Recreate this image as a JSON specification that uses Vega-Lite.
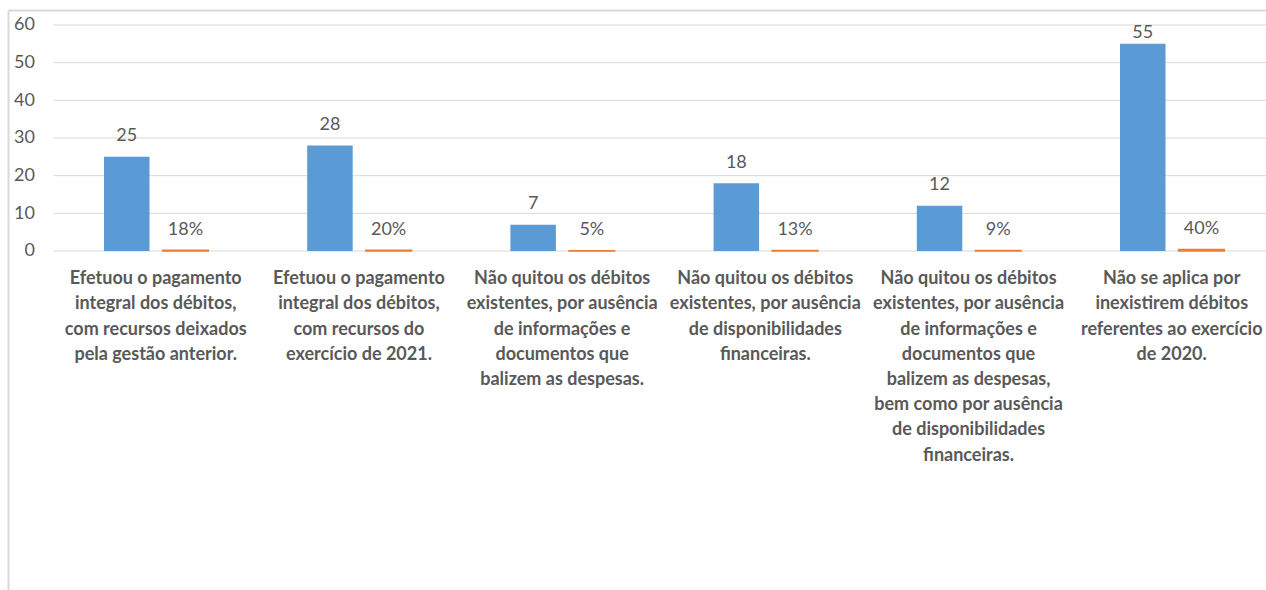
{
  "$schema": "https://vega.github.io/schema/vega-lite/v6.json",
  "width": 1258,
  "height": 580,
  "autosize": "none",
  "padding": {"left": 8, "top": 10, "right": 0, "bottom": 0},
  "background": "white",
  "config": {"view": {"stroke": null}, "text": {"font": "Lato"}},
  "datasets": {
    "barras": [
      {"cat": "Efetuou o pagamento|integral dos débitos,|com recursos deixados|pela gestão anterior.", "serie": "Quantidade", "valor": 25, "rotulo": "25"},
      {"cat": "Efetuou o pagamento|integral dos débitos,|com recursos deixados|pela gestão anterior.", "serie": "Percentual", "valor": 0.18, "rotulo": "18%"},
      {"cat": "Efetuou o pagamento|integral dos débitos,|com recursos do|exercício de 2021.", "serie": "Quantidade", "valor": 28, "rotulo": "28"},
      {"cat": "Efetuou o pagamento|integral dos débitos,|com recursos do|exercício de 2021.", "serie": "Percentual", "valor": 0.20, "rotulo": "20%"},
      {"cat": "Não quitou os débitos|existentes, por ausência|de informações e|documentos que|balizem as despesas.", "serie": "Quantidade", "valor": 7, "rotulo": "7"},
      {"cat": "Não quitou os débitos|existentes, por ausência|de informações e|documentos que|balizem as despesas.", "serie": "Percentual", "valor": 0.05, "rotulo": "5%"},
      {"cat": "Não quitou os débitos|existentes, por ausência|de disponibilidades|financeiras.", "serie": "Quantidade", "valor": 18, "rotulo": "18"},
      {"cat": "Não quitou os débitos|existentes, por ausência|de disponibilidades|financeiras.", "serie": "Percentual", "valor": 0.13, "rotulo": "13%"},
      {"cat": "Não quitou os débitos|existentes, por ausência|de informações e|documentos que|balizem as despesas,|bem como por ausência|de disponibilidades|financeiras.", "serie": "Quantidade", "valor": 12, "rotulo": "12"},
      {"cat": "Não quitou os débitos|existentes, por ausência|de informações e|documentos que|balizem as despesas,|bem como por ausência|de disponibilidades|financeiras.", "serie": "Percentual", "valor": 0.09, "rotulo": "9%"},
      {"cat": "Não se aplica por|inexistirem débitos|referentes ao exercício|de 2020.", "serie": "Quantidade", "valor": 55, "rotulo": "55"},
      {"cat": "Não se aplica por|inexistirem débitos|referentes ao exercício|de 2020.", "serie": "Percentual", "valor": 0.40, "rotulo": "40%"}
    ]
  },
  "layer": [
    {
      "data": {"values": [{"g": 0}, {"g": 10}, {"g": 20}, {"g": 30}, {"g": 40}, {"g": 50}, {"g": 60}]},
      "mark": {"type": "rule", "color": "#d9d9d9", "strokeWidth": 1},
      "encoding": {
        "y": {
          "field": "g", "type": "quantitative",
          "scale": {"domain": [-90, 63.982], "nice": false, "zero": false},
          "axis": {
            "orient": "left", "values": [0, 10, 20, 30, 40, 50, 60],
            "grid": false, "ticks": false, "tickSize": 0,
            "domain": true, "domainColor": "#d9d9d9", "domainWidth": 2,
            "labelPadding": -26.5, "labelAlign": "right", "labelBaseline": "middle",
            "labelFont": "Lato", "labelFontSize": 18, "labelColor": "#595959",
            "labelOverlap": false, "labelBound": false, "labelFlush": false,
            "title": null
          }
        },
        "x": {
          "datum": "Efetuou o pagamento|integral dos débitos,|com recursos deixados|pela gestão anterior.", "type": "nominal", "bandPosition": 0,
          "axis": {
            "orient": "top", "labels": false, "ticks": false, "grid": false,
            "domain": true, "domainColor": "#d9d9d9", "domainWidth": 2, "title": null
          }
        },
        "x2": {"datum": "Não se aplica por|inexistirem débitos|referentes ao exercício|de 2020.", "bandPosition": 1}
      }
    },
    {
      "data": {"name": "barras"},
      "mark": {"type": "bar"},
      "encoding": {
        "x": {
          "field": "cat", "type": "nominal",
          "scale": {
            "domain": [
              "Efetuou o pagamento|integral dos débitos,|com recursos deixados|pela gestão anterior.",
              "Efetuou o pagamento|integral dos débitos,|com recursos do|exercício de 2021.",
              "Não quitou os débitos|existentes, por ausência|de informações e|documentos que|balizem as despesas.",
              "Não quitou os débitos|existentes, por ausência|de disponibilidades|financeiras.",
              "Não quitou os débitos|existentes, por ausência|de informações e|documentos que|balizem as despesas,|bem como por ausência|de disponibilidades|financeiras.",
              "Não se aplica por|inexistirem débitos|referentes ao exercício|de 2020."
            ],
            "paddingInner": 0.03346, "paddingOuter": 0.1122, "align": 1, "round": false
          },
          "axis": {
            "orient": "top", "labels": false, "ticks": false, "grid": false,
            "domain": true, "domainColor": "#d9d9d9", "domainWidth": 2, "title": null
          }
        },
        "xOffset": {
          "field": "serie", "type": "nominal",
          "scale": {"domain": ["Quantidade", "Percentual"], "paddingInner": 0.2249, "paddingOuter": 0.7854, "align": 0.5466, "round": false}
        },
        "y": {
          "field": "valor", "type": "quantitative",
          "axis": {
            "orient": "left", "values": [0, 10, 20, 30, 40, 50, 60],
            "grid": false, "ticks": false, "tickSize": 0,
            "domain": true, "domainColor": "#d9d9d9", "domainWidth": 2,
            "labelPadding": -26.5, "labelAlign": "right", "labelBaseline": "middle",
            "labelFont": "Lato", "labelFontSize": 18, "labelColor": "#595959",
            "labelOverlap": false, "labelBound": false, "labelFlush": false,
            "title": null
          }
        },
        "color": {
          "field": "serie", "type": "nominal",
          "scale": {"domain": ["Quantidade", "Percentual"], "range": ["#5B9BD5", "#ED7D31"]},
          "legend": null
        },
        "stroke": {
          "field": "serie", "type": "nominal",
          "scale": {"domain": ["Quantidade", "Percentual"], "range": ["#5B9BD5", "#ED7D31"]},
          "legend": null
        },
        "strokeWidth": {"condition": {"test": "datum.serie === 'Percentual'", "value": 1.6}, "value": 0}
      }
    },
    {
      "data": {"name": "barras"},
      "transform": [{"filter": "datum.valor < 50"}],
      "mark": {"type": "text", "baseline": "alphabetic", "align": "center", "dy": -15.5, "font": "Lato", "fontSize": 18, "color": "#595959"},
      "encoding": {
        "x": {
          "field": "cat", "type": "nominal",
          "axis": {
            "orient": "top", "labels": false, "ticks": false, "grid": false,
            "domain": true, "domainColor": "#d9d9d9", "domainWidth": 2, "title": null
          }
        },
        "xOffset": {"field": "serie", "type": "nominal"},
        "y": {
          "field": "valor", "type": "quantitative",
          "axis": {
            "orient": "left", "values": [0, 10, 20, 30, 40, 50, 60],
            "grid": false, "ticks": false, "tickSize": 0,
            "domain": true, "domainColor": "#d9d9d9", "domainWidth": 2,
            "labelPadding": -26.5, "labelAlign": "right", "labelBaseline": "middle",
            "labelFont": "Lato", "labelFontSize": 18, "labelColor": "#595959",
            "labelOverlap": false, "labelBound": false, "labelFlush": false,
            "title": null
          }
        },
        "text": {"field": "rotulo"}
      }
    },
    {
      "data": {"name": "barras"},
      "transform": [{"filter": "datum.valor >= 50"}],
      "mark": {"type": "text", "baseline": "alphabetic", "align": "center", "dy": -5.5, "font": "Lato", "fontSize": 18, "color": "#595959"},
      "encoding": {
        "x": {
          "field": "cat", "type": "nominal",
          "axis": {
            "orient": "top", "labels": false, "ticks": false, "grid": false,
            "domain": true, "domainColor": "#d9d9d9", "domainWidth": 2, "title": null
          }
        },
        "xOffset": {"field": "serie", "type": "nominal"},
        "y": {
          "field": "valor", "type": "quantitative",
          "axis": {
            "orient": "left", "values": [0, 10, 20, 30, 40, 50, 60],
            "grid": false, "ticks": false, "tickSize": 0,
            "domain": true, "domainColor": "#d9d9d9", "domainWidth": 2,
            "labelPadding": -26.5, "labelAlign": "right", "labelBaseline": "middle",
            "labelFont": "Lato", "labelFontSize": 18, "labelColor": "#595959",
            "labelOverlap": false, "labelBound": false, "labelFlush": false,
            "title": null
          }
        },
        "text": {"field": "rotulo"}
      }
    },
    {
      "data": {"name": "barras"},
      "transform": [{"filter": "datum.serie === 'Quantidade'"}],
      "mark": {"type": "text", "baseline": "top", "align": "center", "dy": 19.3, "font": "Lato", "fontSize": 18, "fontWeight": "bold", "color": "#595959", "lineBreak": "|", "lineHeight": 25.2},
      "encoding": {
        "x": {
          "field": "cat", "type": "nominal", "bandPosition": 0.52,
          "axis": {
            "orient": "top", "labels": false, "ticks": false, "grid": false,
            "domain": true, "domainColor": "#d9d9d9", "domainWidth": 2, "title": null
          }
        },
        "y": {
          "datum": 0, "type": "quantitative",
          "axis": {
            "orient": "left", "values": [0, 10, 20, 30, 40, 50, 60],
            "grid": false, "ticks": false, "tickSize": 0,
            "domain": true, "domainColor": "#d9d9d9", "domainWidth": 2,
            "labelPadding": -26.5, "labelAlign": "right", "labelBaseline": "middle",
            "labelFont": "Lato", "labelFontSize": 18, "labelColor": "#595959",
            "labelOverlap": false, "labelBound": false, "labelFlush": false,
            "title": null
          }
        },
        "text": {"field": "cat"}
      }
    }
  ]
}
